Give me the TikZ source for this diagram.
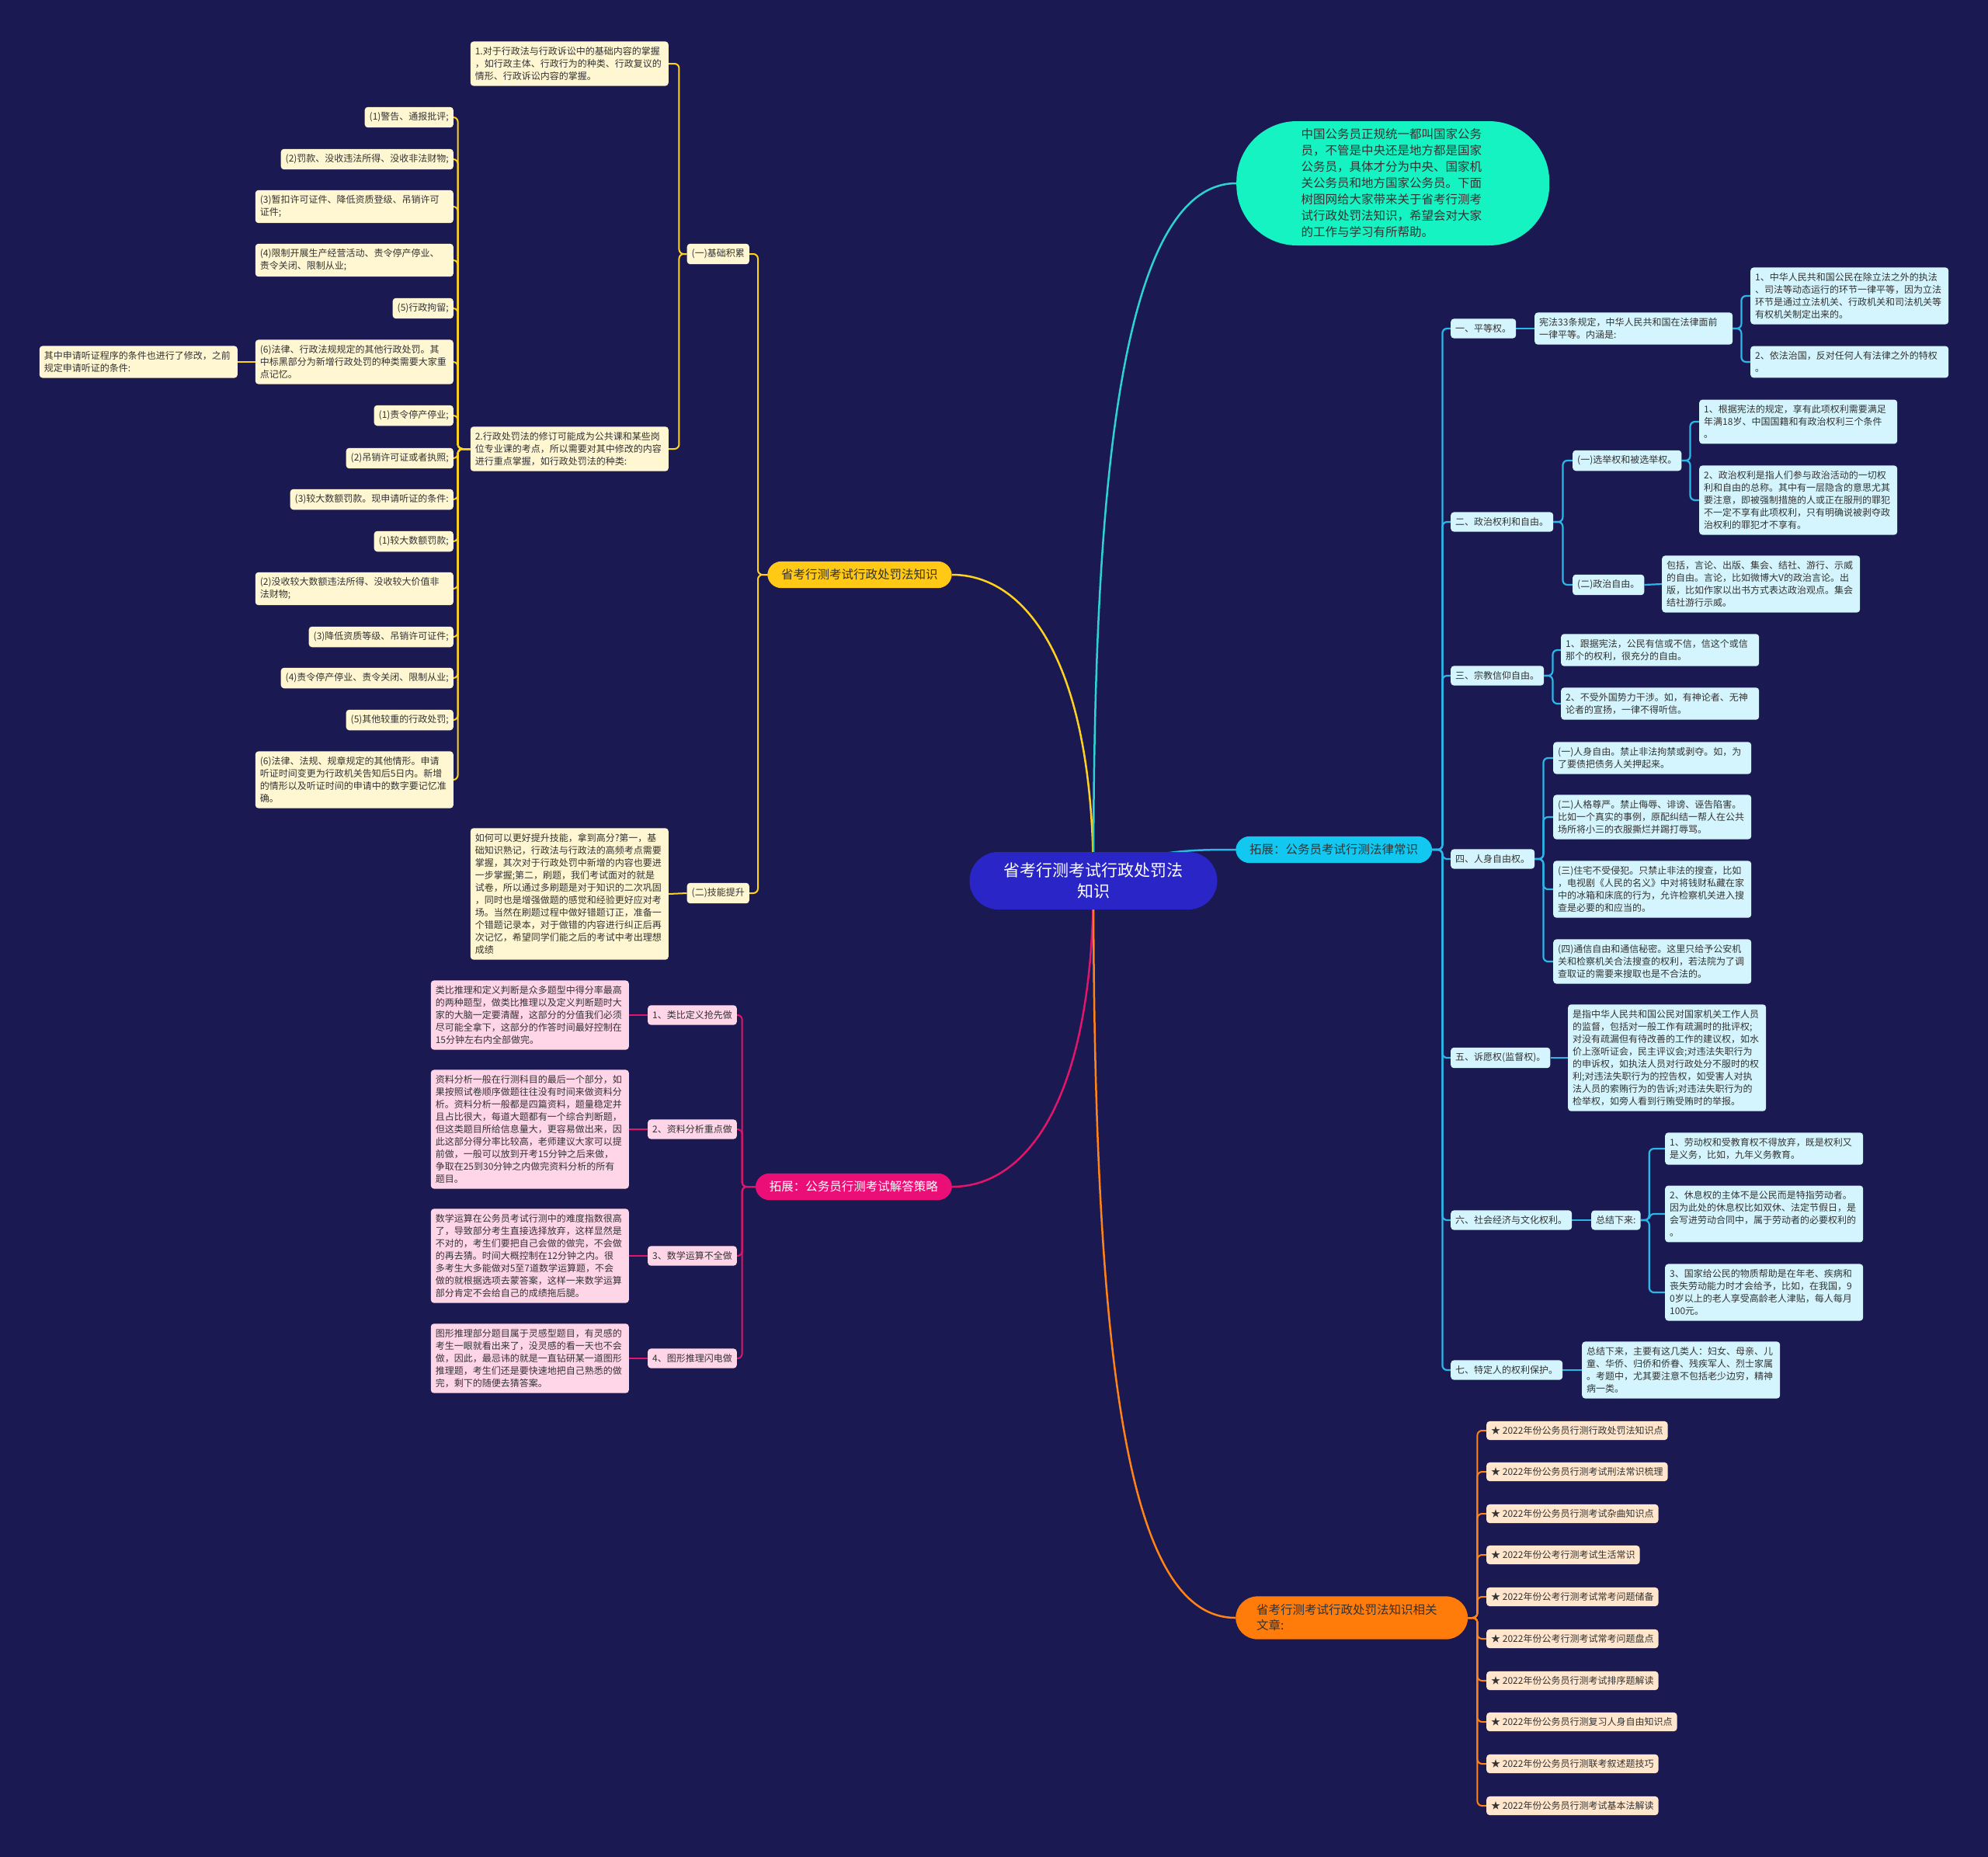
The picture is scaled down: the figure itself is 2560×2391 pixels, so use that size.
\documentclass[tikz,border=0pt]{standalone}
\usepackage{fontspec}
\setmainfont{Noto Sans CJK SC}
\usepackage{xcolor}
\definecolor{Navy}{HTML}{1B1952}
\definecolor{Ink}{HTML}{333333}
\definecolor{CenBlue}{HTML}{2A25C7}
\definecolor{Gold}{HTML}{FFC915}
\definecolor{GoldLine}{HTML}{FFD21F}
\definecolor{YelLeaf}{HTML}{FFF6D2}
\definecolor{Magenta}{HTML}{EB0E77}
\definecolor{MagLine}{HTML}{E3156A}
\definecolor{PinkLeaf}{HTML}{FFD5E8}
\definecolor{Aqua}{HTML}{16F3C2}
\definecolor{AquaLine}{HTML}{2ED3D0}
\definecolor{Sky}{HTML}{12C8F0}
\definecolor{SkyLine}{HTML}{2BB7E8}
\definecolor{BlueLeaf}{HTML}{D4F5FD}
\definecolor{Orange}{HTML}{FF7B0A}
\definecolor{OrgLine}{HTML}{FF8317}
\definecolor{OrgLeaf}{HTML}{FFE6CC}
\usetikzlibrary{backgrounds}
\tikzset{
  leafbox/.style={rounded corners=4pt,inner xsep=6pt,inner ysep=7pt,align=left,
    font=\fontsize{12}{16}\selectfont,text=Ink},
  wide/.style={text width=243pt},
  yb/.style={leafbox,fill=YelLeaf},
  pb/.style={leafbox,fill=PinkLeaf},
  bb/.style={leafbox,fill=BlueLeaf},
  ob/.style={leafbox,fill=OrgLeaf,inner ysep=6.5pt},
  topic/.style={rounded corners=18pt,inner xsep=18pt,inner ysep=10pt,
    font=\fontsize{15.5}{20}\selectfont},
  cen/.style={fill=CenBlue,text=white,rounded corners=37pt,align=center,
    font=\fontsize{21}{27}\selectfont,minimum width=319pt,minimum height=74pt},
  maincurve/.style={line width=2.5pt},
  ylink/.style={draw=GoldLine,line width=2pt,rounded corners=6pt},
  plink/.style={draw=MagLine,line width=2pt,rounded corners=6pt},
  blink/.style={draw=SkyLine,line width=2.2pt,rounded corners=6pt},
  olink/.style={draw=OrgLine,line width=2pt,rounded corners=6pt},
}

\begin{document}
\begin{tikzpicture}[x=1pt,y=-1pt]
\useasboundingbox (0,0) rectangle (2560,2391);

\node[cen] (cen) at (1408,1134) {省考行测考试行政处罚法\\知识};

\node[fill=Aqua,text=Ink,rounded corners=78pt,minimum width=403pt,minimum height=160pt,
  text width=236pt,align=left,font=\fontsize{15.5}{21}\selectfont,anchor=west] (intro) at (1592,236)
  {中国公务员正规统一都叫国家公务\\
   员，不管是中央还是地方都是国家\\
   公务员，具体才分为中央、国家机\\
   关公务员和地方国家公务员。下面\\
   树图网给大家带来关于省考行测考\\
   试行政处罚法知识，希望会对大家\\
   的工作与学习有所帮助。};

% yellow side
\node[topic,fill=Gold,text=Ink,anchor=west] (ytop) at (988,740) {省考行测考试行政处罚法知识};
\node[yb,anchor=east] (jcjl) at (965,327) {(一)基础积累};
\node[yb,anchor=east] (jnts) at (965,1150) {(二)技能提升};
\node[yb,wide,anchor=east] (basics) at (861,82)
  {1.对于行政法与行政诉讼中的基础内容的掌握\\
   ，如行政主体、行政行为的种类、行政复议的\\
   情形、行政诉讼内容的掌握。};
\node[yb,wide,anchor=east] (revise) at (861,578)
  {2.行政处罚法的修订可能成为公共课和某些岗\\
   位专业课的考点，所以需要对其中修改的内容\\
   进行重点掌握，如行政处罚法的种类:};
\node[yb,wide,anchor=east] (skill) at (861,1151)
  {如何可以更好提升技能，拿到高分?第一，基\\
   础知识熟记，行政法与行政法的高频考点需要\\
   掌握，其次对于行政处罚中新增的内容也要进\\
   一步掌握;第二，刷题，我们考试面对的就是\\
   试卷，所以通过多刷题是对于知识的二次巩固\\
   ，同时也是增强做题的感觉和经验更好应对考\\
   场。当然在刷题过程中做好错题订正，准备一\\
   个错题记录本，对于做错的内容进行纠正后再\\
   次记忆，希望同学们能之后的考试中考出理想\\
   成绩};

\node[yb,anchor=east] (warn) at (584,151) {(1)警告、通报批评;};
\node[yb,anchor=east] (fine) at (584,205) {(2)罚款、没收违法所得、没收非法财物;};
\node[yb,wide,anchor=east] (susp) at (584,266) {(3)暂扣许可证件、降低资质登级、吊销许可\\证件;};
\node[yb,wide,anchor=east] (limit) at (584,335) {(4)限制开展生产经营活动、责令停产停业、\\责令关闭、限制从业;};
\node[yb,anchor=east] (detain) at (584,397) {(5)行政拘留;};
\node[yb,wide,anchor=east] (other) at (584,466)
  {(6)法律、行政法规规定的其他行政处罚。其\\
   中标黑部分为新增行政处罚的种类需要大家重\\
   点记忆。};
\node[yb,wide,anchor=east] (hearing) at (306,466)
  {其中申请听证程序的条件也进行了修改，之前\\规定申请听证的条件:};
\node[yb,anchor=east] (stop) at (584,535) {(1)责令停产停业;};
\node[yb,anchor=east] (revoke) at (584,590) {(2)吊销许可证或者执照;};
\node[yb,anchor=east] (bigfine) at (584,643) {(3)较大数额罚款。现申请听证的条件:};
\node[yb,anchor=east] (nbig) at (584,697) {(1)较大数额罚款;};
\node[yb,wide,anchor=east] (nconf) at (584,758) {(2)没收较大数额违法所得、没收较大价值非\\法财物;};
\node[yb,anchor=east] (nlower) at (584,820) {(3)降低资质等级、吊销许可证件;};
\node[yb,anchor=east] (nclose) at (584,873) {(4)责令停产停业、责令关闭、限制从业;};
\node[yb,anchor=east] (nheavy) at (584,927) {(5)其他较重的行政处罚;};
\node[yb,wide,anchor=east] (nmisc) at (584,1004)
  {(6)法律、法规、规章规定的其他情形。申请\\
   听证时间变更为行政机关告知后5日内。新增\\
   的情形以及听证时间的申请中的数字要记忆准\\
   确。};

% pink side
\node[topic,fill=Magenta,text=white,anchor=east] (strat) at (1226,1528) {拓展：公务员行测考试解答策略};
\node[pb,anchor=east] (s1) at (949,1307) {1、类比定义抢先做};
\node[pb,anchor=east] (s2) at (949,1454) {2、资料分析重点做};
\node[pb,anchor=east] (s3) at (949,1617) {3、数学运算不全做};
\node[pb,anchor=east] (s4) at (949,1749) {4、图形推理闪电做};
\node[pb,wide,anchor=east] (st1) at (810,1307)
  {类比推理和定义判断是众多题型中得分率最高\\
   的两种题型，做类比推理以及定义判断题时大\\
   家的大脑一定要清醒，这部分的分值我们必须\\
   尽可能全拿下，这部分的作答时间最好控制在\\
   15分钟左右内全部做完。};
\node[pb,wide,anchor=east] (st2) at (810,1454)
  {资料分析一般在行测科目的最后一个部分，如\\
   果按照试卷顺序做题往往没有时间来做资料分\\
   析。资料分析一般都是四篇资料，题量稳定并\\
   且占比很大，每道大题都有一个综合判断题，\\
   但这类题目所给信息量大，更容易做出来，因\\
   此这部分得分率比较高，老师建议大家可以提\\
   前做，一般可以放到开考15分钟之后来做，\\
   争取在25到30分钟之内做完资料分析的所有\\
   题目。};
\node[pb,wide,anchor=east] (st3) at (810,1617)
  {数学运算在公务员考试行测中的难度指数很高\\
   了，导致部分考生直接选择放弃，这样显然是\\
   不对的，考生们要把自己会做的做完，不会做\\
   的再去猜。时间大概控制在12分钟之内。很\\
   多考生大多能做对5至7道数学运算题，不会\\
   做的就根据选项去蒙答案，这样一来数学运算\\
   部分肯定不会给自己的成绩拖后腿。};
\node[pb,wide,anchor=east] (st4) at (810,1749)
  {图形推理部分题目属于灵感型题目，有灵感的\\
   考生一眼就看出来了，没灵感的看一天也不会\\
   做，因此，最忌讳的就是一直钻研某一道图形\\
   推理题，考生们还是要快速地把自己熟悉的做\\
   完，剩下的随便去猜答案。};

% blue side
\node[topic,fill=Sky,text=Ink,anchor=west] (law) at (1591,1094) {拓展：公务员考试行测法律常识};
\node[bb,anchor=west] (r1) at (1868,423) {一、平等权。};
\node[bb,anchor=west] (r2) at (1868,672) {二、政治权利和自由。};
\node[bb,anchor=west] (r3) at (1868,870) {三、宗教信仰自由。};
\node[bb,anchor=west] (r4) at (1868,1106) {四、人身自由权。};
\node[bb,anchor=west] (r5) at (1868,1362) {五、诉愿权(监督权)。};
\node[bb,anchor=west] (r6) at (1868,1571) {六、社会经济与文化权利。};
\node[bb,anchor=west] (r7) at (1868,1764) {七、特定人的权利保护。};

\node[bb,wide,anchor=west] (eq) at (1976,423) {宪法33条规定，中华人民共和国在法律面前\\一律平等。内涵是:};
\node[bb,wide,anchor=west] (eq1) at (2254,381)
  {1、中华人民共和国公民在除立法之外的执法\\
   、司法等动态运行的环节一律平等，因为立法\\
   环节是通过立法机关、行政机关和司法机关等\\
   有权机关制定出来的。};
\node[bb,wide,anchor=west] (eq2) at (2254,466) {2、依法治国，反对任何人有法律之外的特权\\。};

\node[bb,anchor=west] (vote) at (2025,593) {(一)选举权和被选举权。};
\node[bb,anchor=west] (pfree) at (2025,753) {(二)政治自由。};
\node[bb,wide,anchor=west] (vote1) at (2188,543)
  {1、根据宪法的规定，享有此项权利需要满足\\
   年满18岁、中国国籍和有政治权利三个条件\\
   。};
\node[bb,wide,anchor=west] (vote2) at (2188,644)
  {2、政治权利是指人们参与政治活动的一切权\\
   利和自由的总称。其中有一层隐含的意思尤其\\
   要注意，即被强制措施的人或正在服刑的罪犯\\
   不一定不享有此项权利，只有明确说被剥夺政\\
   治权利的罪犯才不享有。};
\node[bb,wide,anchor=west] (pfree1) at (2140,752)
  {包括，言论、出版、集会、结社、游行、示威\\
   的自由。言论，比如微博大V的政治言论。出\\
   版，比如作家以出书方式表达政治观点。集会\\
   结社游行示威。};

\node[bb,wide,anchor=west] (rel1) at (2010,837) {1、跟据宪法，公民有信或不信，信这个或信\\那个的权利，很充分的自由。};
\node[bb,wide,anchor=west] (rel2) at (2010,906) {2、不受外国势力干涉。如，有神论者、无神\\论者的宣扬，一律不得听信。};

\node[bb,wide,anchor=west] (pers1) at (2000,976) {(一)人身自由。禁止非法拘禁或剥夺。如，为\\了要债把债务人关押起来。};
\node[bb,wide,anchor=west] (pers2) at (2000,1052)
  {(二)人格尊严。禁止侮辱、诽谤、诬告陷害。\\
   比如一个真实的事例，原配纠结一帮人在公共\\
   场所将小三的衣服撕烂并踢打辱骂。};
\node[bb,wide,anchor=west] (pers3) at (2000,1145)
  {(三)住宅不受侵犯。只禁止非法的搜查，比如\\
   ，电视剧《人民的名义》中对将钱财私藏在家\\
   中的冰箱和床底的行为，允许检察机关进入搜\\
   查是必要的和应当的。};
\node[bb,wide,anchor=west] (pers4) at (2000,1238)
  {(四)通信自由和通信秘密。这里只给予公安机\\
   关和检察机关合法搜查的权利，若法院为了调\\
   查取证的需要来搜取也是不合法的。};

\node[bb,wide,anchor=west] (petit) at (2019,1362)
  {是指中华人民共和国公民对国家机关工作人员\\
   的监督，包括对一般工作有疏漏时的批评权;\\
   对没有疏漏但有待改善的工作的建议权，如水\\
   价上涨听证会，民主评议会;对违法失职行为\\
   的申诉权，如执法人员对行政处分不服时的权\\
   利;对违法失职行为的控告权，如受害人对执\\
   法人员的索贿行为的告诉;对违法失职行为的\\
   检举权，如旁人看到行贿受贿时的举报。};

\node[bb,anchor=west] (sum) at (2049,1571) {总结下来:};
\node[bb,wide,anchor=west] (soc1) at (2144,1479) {1、劳动权和受教育权不得放弃，既是权利又\\是义务，比如，九年义务教育。};
\node[bb,wide,anchor=west] (soc2) at (2144,1563)
  {2、休息权的主体不是公民而是特指劳动者。\\
   因为此处的休息权比如双休、法定节假日，是\\
   会写进劳动合同中，属于劳动者的必要权利的\\
   。};
\node[bb,wide,anchor=west] (soc3) at (2144,1664)
  {3、国家给公民的物质帮助是在年老、疾病和\\
   丧失劳动能力时才会给予，比如，在我国，9\\
   0岁以上的老人享受高龄老人津贴，每人每月\\
   100元。};

\node[bb,wide,anchor=west] (spec) at (2037,1764)
  {总结下来，主要有这几类人：妇女、母亲、儿\\
   童、华侨、归侨和侨眷、残疾军人、烈士家属\\
   。考题中，尤其要注意不包括老少边穷，精神\\
   病一类。};

% orange side
\node[topic,fill=Orange,text=Ink,anchor=west,text width=245pt,inner xsep=27pt,
  inner ysep=10.5pt,rounded corners=28pt,align=left] (relart) at (1591,2083)
  {省考行测考试行政处罚法知识相关\\文章:};
\node[ob,anchor=west] (art1) at (1914,1842) {★ 2022年份公务员行测行政处罚法知识点};
\node[ob,anchor=west] (art2) at (1914,1895) {★ 2022年份公务员行测考试刑法常识梳理};
\node[ob,anchor=west] (art3) at (1914,1949) {★ 2022年份公务员行测考试杂曲知识点};
\node[ob,anchor=west] (art4) at (1914,2002) {★ 2022年份公考行测考试生活常识};
\node[ob,anchor=west] (art5) at (1914,2056) {★ 2022年份公考行测考试常考问题储备};
\node[ob,anchor=west] (art6) at (1914,2110) {★ 2022年份公考行测考试常考问题盘点};
\node[ob,anchor=west] (art7) at (1914,2164) {★ 2022年份公务员行测考试排序题解读};
\node[ob,anchor=west] (art8) at (1914,2217) {★ 2022年份公务员行测复习人身自由知识点};
\node[ob,anchor=west] (art9) at (1914,2271) {★ 2022年份公务员行测联考叙述题技巧};
\node[ob,anchor=west] (art10) at (1914,2325) {★ 2022年份公务员行测考试基本法解读};

\begin{scope}[on background layer]
\fill[Navy] (0,0) rectangle (2560,2391);
\draw[maincurve,draw=GoldLine] (cen.center) .. controls (1408,850) and (1320,740) .. (ytop.east);
\draw[maincurve,draw=AquaLine] (cen.center) .. controls (1408,700) and (1430,236) .. (intro.west);
\draw[maincurve,draw=SkyLine] (cen.center) .. controls (1470,1094) and (1530,1094) .. (law.west);
\draw[maincurve,draw=MagLine] (cen.center) .. controls (1408,1420) and (1320,1528) .. (strat.east);
\draw[maincurve,draw=OrgLine] (cen.center) .. controls (1408,1800) and (1460,2083) .. (relart.west);

\draw[ylink] (ytop.west) -- ++(-12,0) |- (jcjl.east);
\draw[ylink] (ytop.west) -- ++(-12,0) |- (jnts.east);
\draw[ylink] (jcjl.west) -- ++(-10,0) |- (basics.east);
\draw[ylink] (jcjl.west) -- ++(-10,0) |- (revise.east);
\draw[ylink] (jnts.west) -- (skill.east);
\foreach \k in {warn,fine,susp,limit,detain,other,stop,revoke,bigfine,
  nbig,nconf,nlower,nclose,nheavy,nmisc}
  \draw[ylink] (revise.west) -- ++(-16,0) |- (\k.east);
\draw[ylink] (other.west) -- (hearing.east);

\foreach \k in {1,...,4}{
  \draw[plink] (strat.west) -- ++(-17,0) |- (s\k.east);
  \draw[plink] (s\k.west) -- (st\k.east);
}

\foreach \k in {1,...,7}
  \draw[blink] (law.east) -- ++(13,0) |- (r\k.west);
\draw[blink] (r1.east) -- (eq.west);
\draw[blink] (eq.east) -- ++(11,0) |- (eq1.west);
\draw[blink] (eq.east) -- ++(11,0) |- (eq2.west);
\draw[blink] (r2.east) -- ++(12,0) |- (vote.west);
\draw[blink] (r2.east) -- ++(12,0) |- (pfree.west);
\draw[blink] (vote.east) -- ++(11,0) |- (vote1.west);
\draw[blink] (vote.east) -- ++(11,0) |- (vote2.west);
\draw[blink] (pfree.east) -- (pfree1.west);
\draw[blink] (r3.east) -- ++(11,0) |- (rel1.west);
\draw[blink] (r3.east) -- ++(11,0) |- (rel2.west);
\foreach \k in {1,...,4}
  \draw[blink] (r4.east) -- ++(11,0) |- (pers\k.west);
\draw[blink] (r5.east) -- (petit.west);
\draw[blink] (r6.east) -- (sum.west);
\foreach \k in {1,2,3}
  \draw[blink] (sum.east) -- ++(11,0) |- (soc\k.west);
\draw[blink] (r7.east) -- (spec.west);

\foreach \k in {1,...,10}
  \draw[olink] (relart.east) -- ++(12,0) |- (art\k.west);
\end{scope}
\end{tikzpicture}
\end{document}
